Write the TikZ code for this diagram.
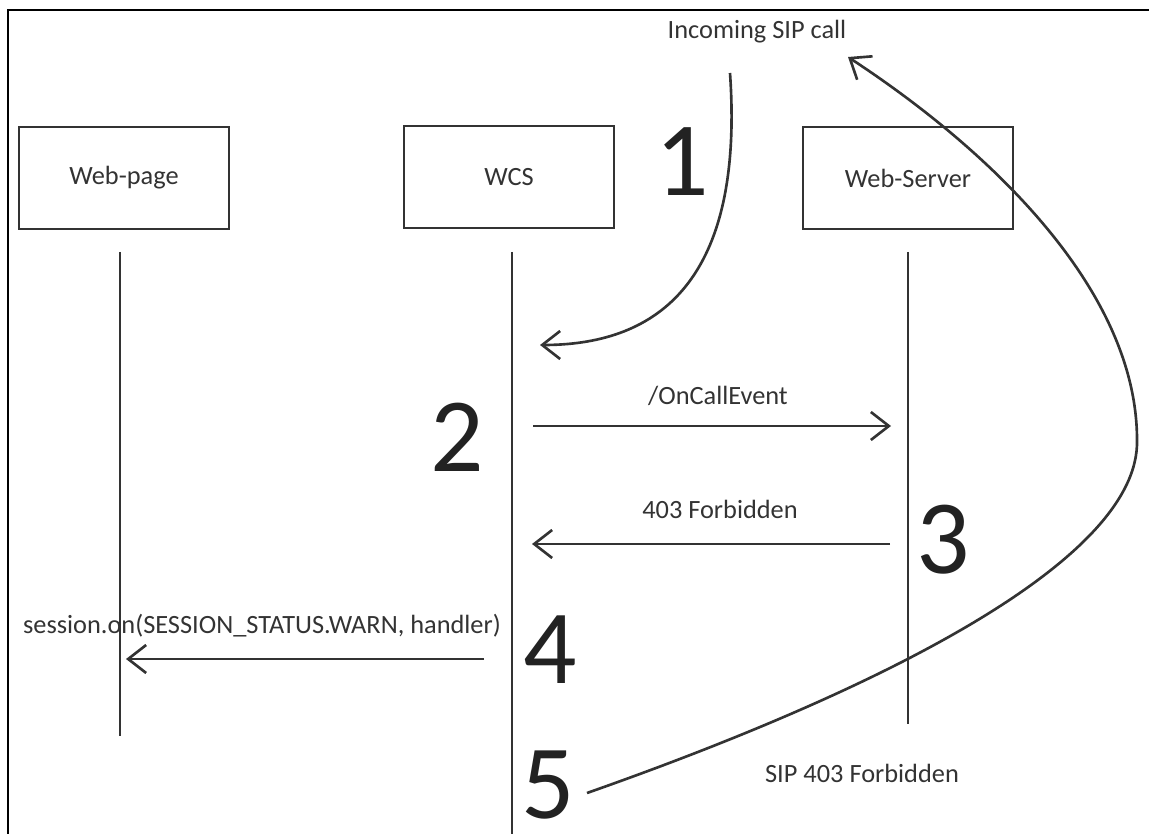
\documentclass[tikz,border=0pt]{standalone}
\usepackage{fontspec}
\setmainfont{Carlito}
\usetikzlibrary{arrows.meta, positioning}
\definecolor{ink}{HTML}{333333}
\definecolor{digit}{HTML}{222222}

\begin{document}
\begin{tikzpicture}[
                      x=0.02cm, y=-0.02cm,
                      >={Straight Barb[length=3.6mm, width=5.6mm]},
                  ]
                  \tikzset{
                      actor/.style = {draw=ink, line width=0.8pt, minimum width=4.2cm, minimum height=2.04cm, text=ink, font=\fontsize{15}{17}\selectfont},
                      life/.style = {draw=ink, line width=0.7pt},
                      msg/.style = {->, line width=1.5pt, ink},
                      lbl/.style = {text=ink, font=\fontsize{15}{17}\selectfont, inner sep=0pt},
                      stepnum/.style = {text=digit, font=\fontsize{60}{60}\selectfont, inner sep=0pt},
                  }

                  % Canvas and frame
                  \useasboundingbox (0,0) rectangle (1149,834);
                  \draw[line width=1.4pt] (1149,10) -- (8,10) -- (8,834);

                  % Participants
                  \node[actor] (page) at (124,178) {Web-page};
                  \node[actor] (wcs) at (509,177) {WCS};
                  \node[actor] (server) at (908,178) {Web-Server};

                  % Lifelines
                  \coordinate (pageTop) at (120,252);
                  \coordinate (pageEnd) at (120,736);
                  \coordinate (wcsTop) at (512,252);
                  \coordinate (wcsEnd) at (512,834);
                  \coordinate (serverTop) at (908,252);
                  \coordinate (serverEnd) at (908,724);
                  \draw[life] (pageTop) -- (pageEnd);
                  \draw[life] (wcsTop) -- (wcsEnd);
                  \draw[life] (serverTop) -- (serverEnd);

                  % Step 1: incoming call
                  \node[lbl] (incoming) at (757,32) {Incoming SIP call};
                  \coordinate (inStart) at (730,73);
                  \coordinate (inEnd) at (540,345);
                  \draw[msg] (inStart) .. controls (745,290) and (650,345) .. (inEnd);
                  \node[stepnum] (one) at (682,162) {1};

                  % Step 2: /OnCallEvent
                  \coordinate (evFrom) at (533,426);
                  \coordinate (evTo) at (891,426);
                  \draw[msg] (evFrom) -- (evTo);
                  \node[lbl] (event) at (718,396) {/OnCallEvent};
                  \node[stepnum] (two) at (457,437) {2};

                  % Step 3: 403 Forbidden
                  \coordinate (fbFrom) at (890,544);
                  \coordinate (fbTo) at (532,544);
                  \draw[msg] (fbFrom) -- (fbTo);
                  \node[lbl] (forbid) at (720,509) {403 Forbidden};
                  \node[stepnum] (three) at (943,540) {3};

                  % Step 4: session status event
                  \coordinate (wnFrom) at (484,659);
                  \coordinate (wnTo) at (126,659);
                  \draw[msg] (wnFrom) -- (wnTo);
                  \node[lbl] (warn) at (262,626) {session.on(SESSION\_STATUS.WARN, handler)};
                  \node[stepnum] (four) at (550,650) {4};

                  % Step 5: SIP reply
                  \node[stepnum] (five) at (548,785) {5};
                  \coordinate (sipFrom) at (587,793);
                  \coordinate (sipTo) at (848,57);
                  \draw[msg] (sipFrom) .. controls (880,690) and (1140,560) .. (1137,440)
                                       .. controls (1137,290) and (990,150) .. (sipTo);
                  \node[lbl] (sip) at (862,773) {SIP 403 Forbidden};

              \end{tikzpicture}
\end{document}
